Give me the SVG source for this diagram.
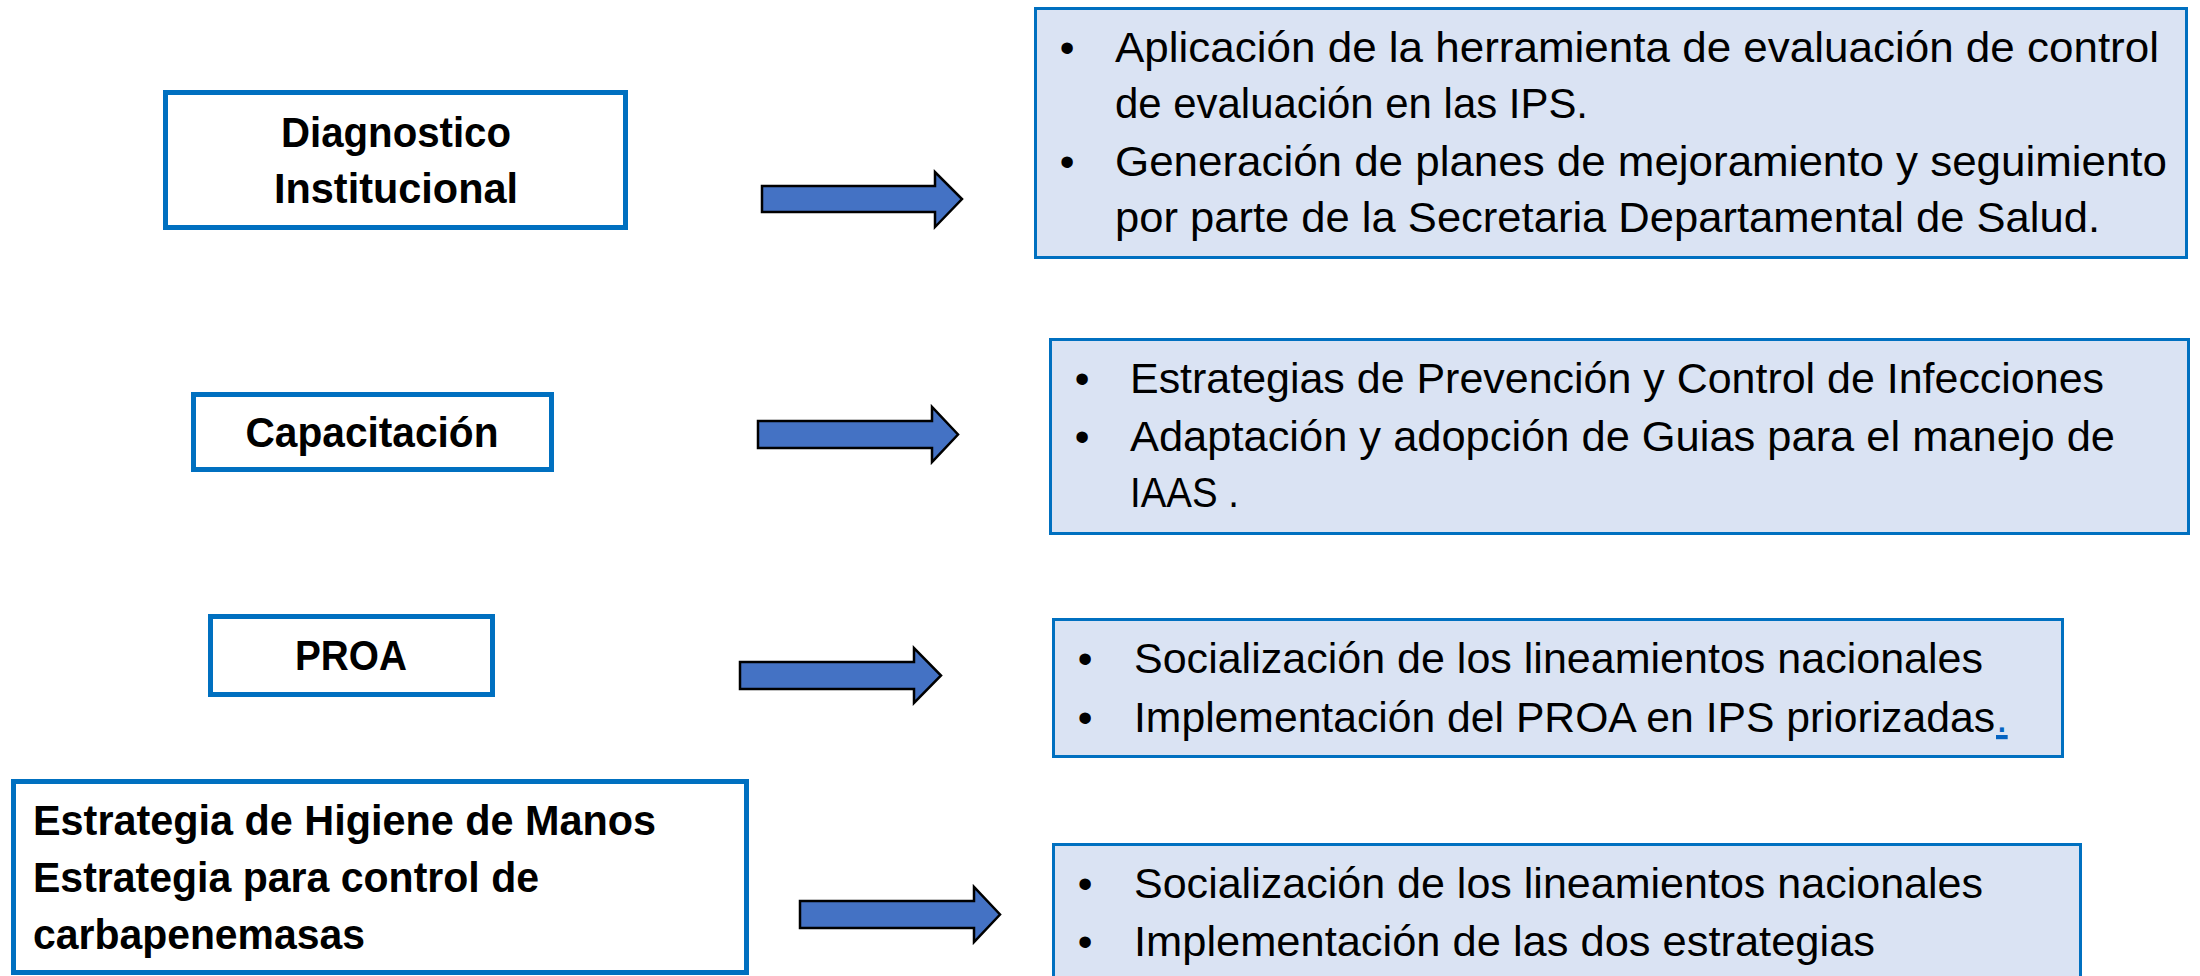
<svg xmlns="http://www.w3.org/2000/svg" width="2200" height="976" viewBox="0 0 2200 976">
<style>
.lbox{fill:#ffffff;stroke:#0070C0;stroke-width:5}
.rbox{fill:#DAE3F3;stroke:#0070C0;stroke-width:3}
.arrow{fill:#4472C4;stroke:#000000;stroke-width:2.5;stroke-linejoin:miter}
.lt{font-family:"Liberation Sans",Arial,sans-serif;font-weight:bold;font-size:42px;fill:#000}
.rt{font-family:"Liberation Sans",Arial,sans-serif;font-size:42px;fill:#000}
.b{font-family:"Liberation Sans",Arial,sans-serif;font-size:42px;fill:#000;text-anchor:middle}
.c{text-anchor:middle}
.lnk{font-family:"Liberation Sans",Arial,sans-serif;font-size:42px;fill:#0563C1;text-decoration:underline}
</style>
<rect width="2200" height="976" fill="#ffffff"/>
<g id="connectors">
<path class="arrow" d="M762,186 H935 V172 L962,199 L935,227 V212 H762 Z"/>
<path class="arrow" d="M758,421 H932 V407 L958,434.5 L932,462 V448 H758 Z"/>
<path class="arrow" d="M740,662 H914 V648 L941,675.5 L914,703 V689 H740 Z"/>
<path class="arrow" d="M800,901 H974 V887 L1000,914.5 L974,942 V928 H800 Z"/>
</g>
<g id="diagnostico">
<rect class="lbox" x="165.5" y="92.5" width="460" height="135"/>
<text class="lt c" x="396" y="147" textLength="230" lengthAdjust="spacingAndGlyphs">Diagnostico</text>
<text class="lt c" x="396" y="203" textLength="244" lengthAdjust="spacingAndGlyphs">Institucional</text>
</g>
<g id="capacitacion">
<rect class="lbox" x="193.5" y="394.5" width="358" height="75"/>
<text class="lt c" x="372" y="447" textLength="253" lengthAdjust="spacingAndGlyphs">Capacitación</text>
</g>
<g id="proa">
<rect class="lbox" x="210.5" y="616.5" width="282" height="78"/>
<text class="lt c" x="351" y="670" textLength="112" lengthAdjust="spacingAndGlyphs">PROA</text>
</g>
<g id="estrategias">
<rect class="lbox" x="13.5" y="781.5" width="733" height="191"/>
<text class="lt" x="33" y="835" textLength="623" lengthAdjust="spacingAndGlyphs">Estrategia de Higiene de Manos</text>
<text class="lt" x="33" y="892" textLength="506" lengthAdjust="spacingAndGlyphs">Estrategia para control de</text>
<text class="lt" x="33" y="949" textLength="332" lengthAdjust="spacingAndGlyphs">carbapenemasas</text>
</g>
<g id="detalle-diagnostico">
<rect class="rbox" x="1035.5" y="8.5" width="1151" height="249"/>
<text class="b" x="1067" y="62">•</text>
<text class="b" x="1067" y="176">•</text>
<text class="rt" x="1115" y="62" textLength="1044" lengthAdjust="spacingAndGlyphs">Aplicación de la herramienta de evaluación de control</text>
<text class="rt" x="1115" y="118" textLength="473" lengthAdjust="spacingAndGlyphs">de evaluación en las IPS.</text>
<text class="rt" x="1115" y="176" textLength="1052" lengthAdjust="spacingAndGlyphs">Generación de planes de mejoramiento y seguimiento</text>
<text class="rt" x="1115" y="232" textLength="985" lengthAdjust="spacingAndGlyphs">por parte de la Secretaria Departamental de Salud.</text>
</g>
<g id="detalle-capacitacion">
<rect class="rbox" x="1050.5" y="339.5" width="1138" height="194"/>
<text class="b" x="1082" y="393">•</text>
<text class="b" x="1082" y="451">•</text>
<text class="rt" x="1130" y="393" textLength="974" lengthAdjust="spacingAndGlyphs">Estrategias de Prevención y Control de Infecciones</text>
<text class="rt" x="1130" y="451" textLength="985" lengthAdjust="spacingAndGlyphs">Adaptación y adopción de Guias para el manejo de</text>
<text class="rt" x="1130" y="507" textLength="109" lengthAdjust="spacingAndGlyphs">IAAS .</text>
</g>
<g id="detalle-proa">
<rect class="rbox" x="1053.5" y="619.5" width="1009" height="137"/>
<text class="b" x="1085" y="673">•</text>
<text class="b" x="1085" y="732">•</text>
<text class="rt" x="1134" y="673" textLength="849" lengthAdjust="spacingAndGlyphs">Socialización de los lineamientos nacionales</text>
<text class="rt" x="1134" y="732" textLength="861" lengthAdjust="spacingAndGlyphs">Implementación del PROA en IPS priorizadas</text>
<text class="lnk" x="1996" y="732">.</text>
</g>
<g id="detalle-estrategias">
<rect class="rbox" x="1053.5" y="844.5" width="1027" height="145"/>
<text class="b" x="1085" y="898">•</text>
<text class="b" x="1085" y="956">•</text>
<text class="rt" x="1134" y="898" textLength="849" lengthAdjust="spacingAndGlyphs">Socialización de los lineamientos nacionales</text>
<text class="rt" x="1134" y="956" textLength="741" lengthAdjust="spacingAndGlyphs">Implementación de las dos estrategias</text>
</g>
</svg>
